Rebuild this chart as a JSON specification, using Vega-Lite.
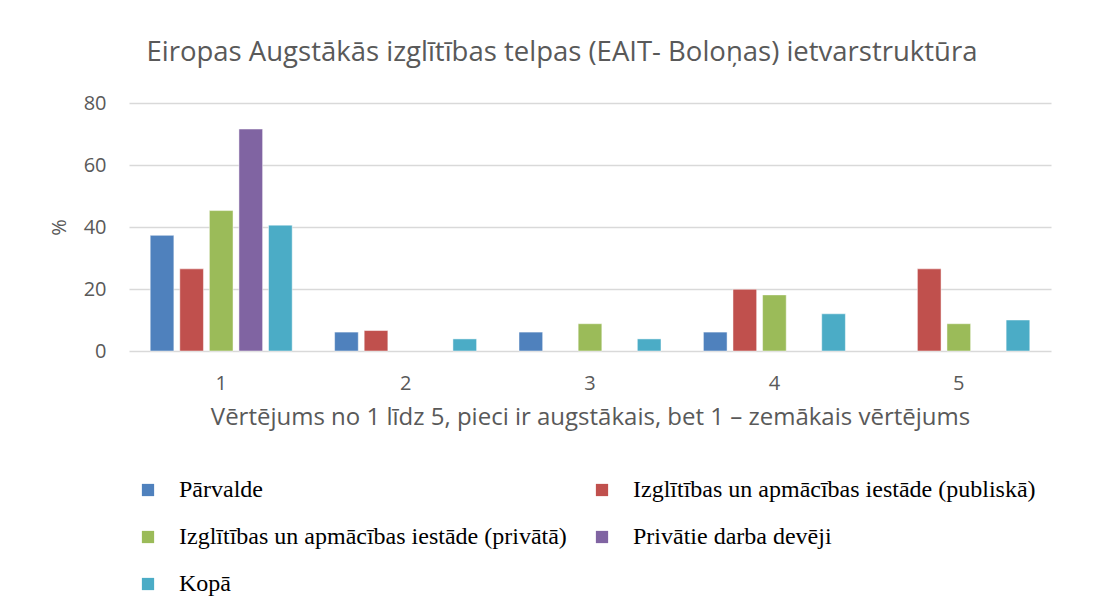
{
  "$schema": "https://vega.github.io/schema/vega-lite/v6.json",
  "width": 922,
  "height": 248,
  "autosize": {"type": "none"},
  "padding": {"left": 129, "top": 103, "right": 53, "bottom": 261},
  "background": "white",
  "title": {
    "text": "Eiropas Augstākās izglītības telpas (EAIT- Boloņas) ietvarstruktūra",
    "font": "Open Sans",
    "fontSize": 27.5,
    "fontWeight": "normal",
    "color": "#595959",
    "anchor": "middle",
    "dx": -28,
    "offset": 27
  },
  "data": {
    "values": [
      {"vertejums": "1", "grupa": "Pārvalde", "procenti": 37.3},
      {"vertejums": "1", "grupa": "Izglītības un apmācības iestāde (publiskā)", "procenti": 26.5},
      {"vertejums": "1", "grupa": "Izglītības un apmācības iestāde (privātā)", "procenti": 45.3},
      {"vertejums": "1", "grupa": "Privātie darba devēji", "procenti": 71.6},
      {"vertejums": "1", "grupa": "Kopā", "procenti": 40.6},
      {"vertejums": "2", "grupa": "Pārvalde", "procenti": 6.1},
      {"vertejums": "2", "grupa": "Izglītības un apmācības iestāde (publiskā)", "procenti": 6.6},
      {"vertejums": "2", "grupa": "Kopā", "procenti": 3.9},
      {"vertejums": "3", "grupa": "Pārvalde", "procenti": 6.1},
      {"vertejums": "3", "grupa": "Izglītības un apmācības iestāde (privātā)", "procenti": 8.8},
      {"vertejums": "3", "grupa": "Kopā", "procenti": 3.9},
      {"vertejums": "4", "grupa": "Pārvalde", "procenti": 6.1},
      {"vertejums": "4", "grupa": "Izglītības un apmācības iestāde (publiskā)", "procenti": 19.9},
      {"vertejums": "4", "grupa": "Izglītības un apmācības iestāde (privātā)", "procenti": 18.1},
      {"vertejums": "4", "grupa": "Kopā", "procenti": 12.0},
      {"vertejums": "5", "grupa": "Izglītības un apmācības iestāde (publiskā)", "procenti": 26.5},
      {"vertejums": "5", "grupa": "Izglītības un apmācības iestāde (privātā)", "procenti": 8.8},
      {"vertejums": "5", "grupa": "Kopā", "procenti": 10.0}
    ]
  },
  "mark": {"type": "bar", "stroke": "white", "strokeWidth": 0.8, "strokeOpacity": 0.6},
  "encoding": {
    "x": {
      "field": "vertejums",
      "type": "ordinal",
      "scale": {"paddingInner": 0.23, "paddingOuter": 0.115},
      "axis": {
        "title": "Vērtējums no 1 līdz 5, pieci ir augstākais, bet 1 – zemākais vērtējums",
        "labelAngle": 0,
        "ticks": false,
        "domain": false,
        "labelPadding": 22,
        "labelFont": "Open Sans",
        "labelFontSize": 20,
        "labelColor": "#595959",
        "titleFont": "Open Sans",
        "titleFontSize": 24,
        "titleFontWeight": "normal",
        "titleColor": "#595959",
        "titlePadding": 12
      }
    },
    "xOffset": {
      "field": "grupa",
      "type": "nominal",
      "sort": ["Pārvalde", "Izglītības un apmācības iestāde (publiskā)", "Izglītības un apmācības iestāde (privātā)", "Privātie darba devēji", "Kopā"],
      "scale": {"paddingInner": 0.2, "paddingOuter": 0}
    },
    "y": {
      "field": "procenti",
      "type": "quantitative",
      "scale": {"domain": [0, 80]},
      "axis": {
        "title": "%",
        "values": [0, 20, 40, 60, 80],
        "ticks": false,
        "domain": false,
        "labelPadding": 23,
        "labelFont": "Open Sans",
        "labelFontSize": 20,
        "labelColor": "#595959",
        "gridColor": "#D9D9D9",
        "gridWidth": 1.5,
        "titleFont": "Open Sans",
        "titleFontSize": 20,
        "titleFontWeight": "normal",
        "titleColor": "#595959",
        "titlePadding": 14
      }
    },
    "color": {
      "field": "grupa",
      "type": "nominal",
      "sort": ["Pārvalde", "Izglītības un apmācības iestāde (publiskā)", "Izglītības un apmācības iestāde (privātā)", "Privātie darba devēji", "Kopā"],
      "scale": {
        "domain": ["Pārvalde", "Izglītības un apmācības iestāde (publiskā)", "Izglītības un apmācības iestāde (privātā)", "Privātie darba devēji", "Kopā"],
        "range": ["#4F81BD", "#C0504D", "#9BBB59", "#8064A2", "#4BACC6"]
      },
      "legend": {
        "title": null,
        "orient": "none",
        "legendX": 7,
        "legendY": 375,
        "direction": "horizontal",
        "columns": 2,
        "columnPadding": 23,
        "rowPadding": 23,
        "symbolType": "square",
        "symbolSize": 150,
        "symbolStrokeWidth": 0,
        "labelFont": "Liberation Serif",
        "labelFontSize": 24,
        "labelColor": "#000000",
        "labelOffset": 19,
        "labelLimit": 700
      }
    }
  },
  "config": {"view": {"stroke": null}}
}
